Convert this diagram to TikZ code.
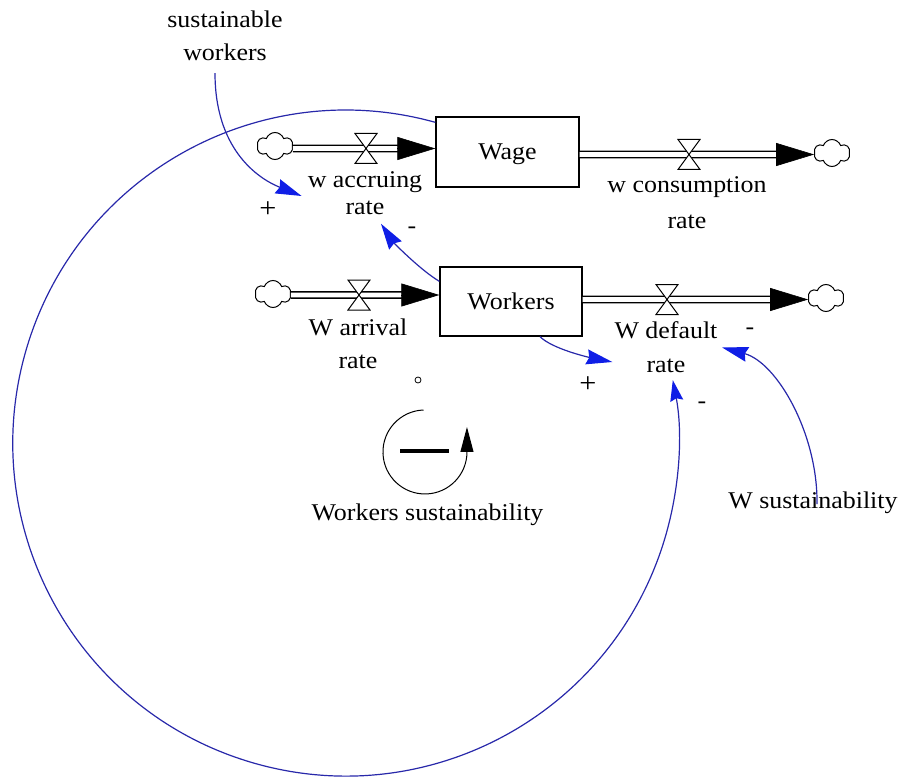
\documentclass[tikz,border=0pt]{standalone}
\usepackage{fontspec}
\setmainfont{Liberation Serif}[FakeStretch=1.08]
\usetikzlibrary{arrows.meta,shapes.symbols}
\definecolor{linkblue}{RGB}{40,40,170}
\definecolor{tipblue}{RGB}{15,30,230}
\tikzset{
  lbl/.style={font=\fontsize{24}{#1}\selectfont, align=center, inner sep=0pt},
  lbl/.default=33,
  txt/.style={font=\fontsize{24}{28}\selectfont, inner sep=0pt},
  stock/.style={draw, line width=1.3pt, minimum width=143pt, minimum height=70pt,
    text height=16pt, text depth=0pt, inner sep=0pt, font=\fontsize{24}{28}\selectfont},
  source/.style={cloud, draw, cloud puffs=6, cloud puff arc=140, aspect=1.3,
    minimum width=36pt, minimum height=27pt, inner sep=0pt, line width=1pt},
  pipe/.style={double, double distance=4.8pt, line width=1.4pt},
  flowtip/.style={line width=0.6pt, -{Triangle[length=38pt,width=23pt]}},
  link/.style={linkblue, line width=1.2pt, -{Stealth[length=26pt,width=15pt,inset=2.5pt,color=tipblue]}},
  pol/.style={font=\fontsize{28}{30}\selectfont, inner sep=0pt},
  neg/.style={font=\fontsize{24}{28}\selectfont, inner sep=0pt},
  valve/.pic={\draw[fill=white, line width=1pt] (-11,-15) -- (11,-15) -- (-11,15) -- (11,15) -- cycle;}
}
\begin{document}
\begin{tikzpicture}[x=1pt,y=-1pt]
\useasboundingbox (0,0) rectangle (898,781);
% stocks
\node[stock] (wage) at (507.5,152) {Wage};
\node[stock, minimum width=142pt, minimum height=69pt] (workers) at (511,301.5) {Workers};
% clouds
\node[source] (c1) at (275,146) {};
\node[source] (c2) at (832,153) {};
\node[source] (c3) at (273,294) {};
\node[source] (c4) at (826,298) {};
% pipes
\draw[pipe, shorten >=37pt] ([yshift=-2.5pt]c1.east) -- ([yshift=3.5pt]wage.west);
\draw[flowtip] ([xshift=-38pt,yshift=3.5pt]wage.west) -- ([yshift=3.5pt]wage.west);
\draw[pipe, shorten >=37pt] ([yshift=-2.5pt]wage.east) -- ([yshift=-1.5pt]c2.west);
\draw[flowtip] ([xshift=-38pt,yshift=-1.5pt]c2.west) -- ([yshift=-1.5pt]c2.west);
\draw[pipe, shorten >=37pt] ([yshift=-1pt]c3.east) -- ([yshift=6.5pt]workers.west);
\draw[flowtip] ([xshift=-38pt,yshift=6.5pt]workers.west) -- ([yshift=6.5pt]workers.west);
\draw[pipe, shorten >=37pt] ([yshift=2pt]workers.east) -- ([yshift=-1.5pt]c4.west);
\draw[flowtip] ([xshift=-38pt,yshift=-1.5pt]c4.west) -- ([yshift=-1.5pt]c4.west);
% valves
\pic at (366,148.5) {valve};
\pic at (689,154.5) {valve};
\pic at (359,295) {valve};
\pic at (667,299.5) {valve};
% labels
\node[lbl=33] (sw) at (225,36) {sustainable\\workers};
\node[lbl=27] (war) at (365,193) {w accruing\\rate};
\node[lbl=36] (wcr) at (687,202.5) {w consumption\\rate};
\node[lbl=33] (warr) at (358,344) {W arrival\\rate};
\node[lbl=34] (wdr) at (666,347.5) {W default\\rate};
\node[txt, anchor=base] (ws) at (813,508) {W sustainability};
\node[txt, anchor=base] (wsl) at (427.5,520.5) {Workers sustainability};
% links
\draw[link] ([xshift=-10pt,yshift=-12pt]sw.south) .. controls +(0,75) and +(-45,-18) .. ([xshift=-6pt,yshift=-3pt]war.west);
\draw[link] ([yshift=-15pt]workers.north west) .. controls +(-20,-12) and +(12,18) .. ([xshift=16pt,yshift=-9pt]war.south);
\draw[link] ([xshift=29pt]workers.south) .. controls +(12,12) and +(-25,-5) .. ([xshift=-2pt,yshift=-14.5pt]wdr.west);
\draw[link] ([xshift=4pt,yshift=-13pt]ws.north) .. controls +(1,-70) and +(55,15) .. ([xshift=4.5pt]wdr.east);
\draw[link, -{Stealth[length=21pt,width=13pt,inset=2.5pt,color=tipblue]}] ([yshift=-6pt]wage.north west) arc[start angle=-74.4, end angle=-370.9, radius=333];
% polarities
\node[pol] (p1) at (268,210) {+};
\node[neg] (p2) at (412,230) {-};
\node[pol] (p3) at (588,385) {+};
\node[neg] (p4) at (750,331) {-};
\node[neg] (p5) at (702,405) {-};
% small marker
\draw[line width=0.8pt] (418,380) circle[radius=3];
% loop symbol
\coordinate (loopstart) at (423.5,410);
\draw[line width=1pt, -{Triangle[length=25pt,width=13pt]}] (loopstart) arc[start angle=-92, end angle=-360, radius=42] -- ++(0,-25);
\draw[line width=3.5pt] (400,451) -- (449,451);
\end{tikzpicture}
\end{document}
